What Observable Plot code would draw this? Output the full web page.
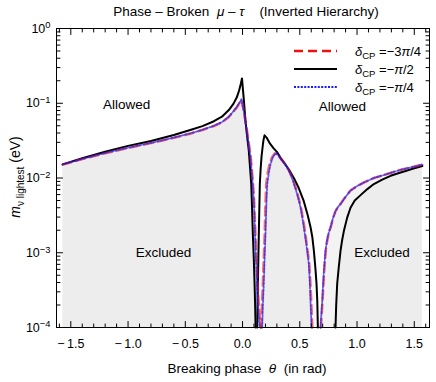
<!DOCTYPE html>
<html><head><meta charset="utf-8">
<script src="https://cdn.jsdelivr.net/npm/d3@7"></script>
<script src="https://cdn.jsdelivr.net/npm/@observablehq/plot@0.6"></script>
<style>body{margin:0;background:#fff}</style>
</head><body><div id="chart"></div>
<script>
// ---- data ----
const thetaBlack1 = [-1.571,-1.4,-1.2,-1.0,-0.8,-0.6,-0.45,-0.35,-0.25,-0.18,-0.12,-0.08,-0.05,-0.03,-0.015,-0.005,0.01,0.026,0.04,0.055,0.066,0.076,0.083,0.09,0.098,0.105,0.11,0.114];
const mBlack1 = [0.0152,0.0184,0.0224,0.0269,0.0313,0.0376,0.0442,0.0495,0.0575,0.066,0.081,0.098,0.12,0.148,0.182,0.215,0.118,0.0575,0.036,0.0229,0.0135,0.0083,0.0040,0.00178,0.00085,0.00039,0.0002,0.0001];
const thetaBlack2 = [0.128,0.134,0.142,0.151,0.158,0.166,0.174,0.182,0.192,0.21,0.24,0.27,0.3,0.332,0.37,0.41,0.448,0.49,0.535,0.57,0.594,0.61,0.623,0.636,0.646,0.653,0.658];
const mBlack2 = [0.0001,0.0004,0.00178,0.0083,0.0132,0.0195,0.025,0.0316,0.0372,0.0347,0.0288,0.0251,0.0224,0.0186,0.0155,0.0126,0.01,0.0074,0.0049,0.00316,0.0022,0.0016,0.00107,0.00063,0.00039,0.000224,0.0001];
const thetaBlack3 = [0.812,0.818,0.827,0.84,0.856,0.87,0.885,0.914,0.943,0.98,1.031,1.09,1.147,1.22,1.293,1.36,1.438,1.5,1.571];
const mBlack3 = [0.0001,0.0002,0.00039,0.00063,0.00107,0.00148,0.00195,0.00295,0.004,0.005,0.0059,0.0071,0.0083,0.0095,0.0107,0.0116,0.0126,0.0135,0.0145];

const thetaBlue1 = [-1.571,-1.4,-1.2,-1.0,-0.8,-0.6,-0.45,-0.35,-0.25,-0.18,-0.12,-0.08,-0.05,-0.03,-0.01,0.011,0.026,0.041,0.055,0.07,0.085,0.099,0.107,0.114,0.121,0.128,0.135,0.142,0.151];
const mBlue1 = [0.0152,0.018,0.0216,0.0254,0.0295,0.0347,0.0398,0.0442,0.05,0.056,0.066,0.078,0.089,0.1,0.113,0.078,0.055,0.039,0.027,0.0186,0.0098,0.0049,0.0022,0.00107,0.00058,0.00031,0.00019,0.000138,0.0001];
const thetaBlue2 = [0.172,0.178,0.186,0.193,0.201,0.208,0.216,0.23,0.245,0.265,0.288,0.31,0.33,0.36,0.39,0.415,0.44,0.46,0.478,0.495,0.51,0.523,0.535,0.548,0.56,0.57,0.579,0.587,0.594,0.603];
const mBlue2 = [0.0001,0.0002,0.00039,0.00085,0.00178,0.0042,0.0083,0.0117,0.0155,0.019,0.0214,0.0204,0.0182,0.016,0.0138,0.0115,0.0093,0.0074,0.006,0.0048,0.0038,0.0029,0.0022,0.00162,0.0012,0.00091,0.00071,0.00042,0.00021,0.0001];
const thetaBlue3 = [0.681,0.688,0.696,0.703,0.71,0.718,0.725,0.735,0.745,0.757,0.769,0.79,0.812,0.834,0.856,0.9,0.943,1.0,1.059,1.147,1.22,1.293,1.36,1.438,1.5,1.571];
const mBlue3 = [0.0001,0.00015,0.00023,0.00037,0.00056,0.0008,0.00107,0.00138,0.00166,0.00195,0.0022,0.0029,0.0036,0.0041,0.0045,0.0056,0.0068,0.0078,0.0087,0.01,0.0108,0.0117,0.0126,0.0135,0.0142,0.0151];

const thetaRed1 = [-1.571,-1.4,-1.2,-1.0,-0.8,-0.6,-0.45,-0.35,-0.25,-0.18,-0.12,-0.08,-0.05,-0.03,-0.01,0.011,0.026,0.041,0.055,0.07,0.085,0.099,0.108,0.116,0.124,0.132,0.14,0.148,0.158];
const mRed1 = [0.0151,0.0179,0.0214,0.0252,0.0293,0.0345,0.0395,0.044,0.0497,0.0556,0.0655,0.0775,0.088,0.099,0.111,0.08,0.057,0.041,0.029,0.02,0.011,0.0058,0.0027,0.00125,0.00068,0.00036,0.00022,0.00015,0.0001];
const thetaRed2 = [0.163,0.17,0.178,0.186,0.194,0.2,0.207,0.22,0.237,0.258,0.283,0.31,0.33,0.36,0.39,0.415,0.44,0.46,0.478,0.495,0.51,0.525,0.538,0.55,0.562,0.573,0.582,0.591,0.6,0.609];
const mRed2 = [0.0001,0.0002,0.00039,0.00085,0.00178,0.0042,0.0083,0.0117,0.0155,0.019,0.0214,0.0206,0.0185,0.0163,0.014,0.0118,0.0096,0.0077,0.0063,0.005,0.004,0.003,0.0023,0.0017,0.00125,0.00093,0.00072,0.00043,0.00022,0.0001];
const thetaRed3 = [0.684,0.691,0.699,0.706,0.713,0.72,0.727,0.737,0.747,0.758,0.77,0.79,0.812,0.834,0.856,0.9,0.943,1.0,1.059,1.147,1.22,1.293,1.36,1.438,1.5,1.571];
const mRed3 = [0.0001,0.00015,0.00023,0.00037,0.00056,0.0008,0.00107,0.00138,0.00166,0.00195,0.0022,0.0029,0.0036,0.0041,0.0045,0.0056,0.0068,0.0078,0.0087,0.01,0.0108,0.0117,0.0126,0.0135,0.0142,0.0151];

const xTicks = [-1.5,-1.0,-0.5,0.0,0.5,1.0,1.5];
const yTicks = [1e-4,1e-3,1e-2,1e-1,1];
const annoTheta = [-1.013, 0.873, -0.69, 1.218];
const annoM = [0.097, 0.091, 0.001, 0.001];
const annoText = ["Allowed","Allowed","Excluded","Excluded"];

// ---- build tables ----
function rows(curve, branch, th, m) { return th.map((t, i) => ({curve, branch: curve + branch, theta: t, m: m[i]})); }
const black = [...rows("k",1,thetaBlack1,mBlack1), ...rows("k",2,thetaBlack2,mBlack2), ...rows("k",3,thetaBlack3,mBlack3)];
const blue = [...rows("b",1,thetaBlue1,mBlue1), ...rows("b",2,thetaBlue2,mBlue2), ...rows("b",3,thetaBlue3,mBlue3)];
const red = [...rows("r",1,thetaRed1,mRed1), ...rows("r",2,thetaRed2,mRed2), ...rows("r",3,thetaRed3,mRed3)];
const all = [...black, ...red, ...blue];
const annos = annoText.map((t, i) => ({t, theta: annoTheta[i], m: annoM[i]}));

const xMinor = d3.range(-16, 17).map(i => i / 10).filter(v => Math.abs(v * 2 - Math.round(v * 2)) > 1e-6);
const yMinor = [];
for (let k = -4; k < 0; k++) for (let j = 2; j <= 9; j++) yMinor.push(j * Math.pow(10, k));

const tickShape = {draw(ctx, l) { ctx.moveTo(0, 0); ctx.lineTo(0, -l); }};
const vt = (data, chan, anchor, rot, len) => Plot.vector(data, {[chan]: d => d, frameAnchor: anchor, rotate: rot, length: len, anchor: "start", shape: tickShape, stroke: "#000", strokeWidth: 1});

const plot = Plot.plot({
  width: 436, height: 382,
  marginLeft: 56, marginRight: 7, marginTop: 28, marginBottom: 55,
  style: {fontFamily: "'Liberation Sans', Arial, sans-serif", fontSize: "12.5px", background: "#fff", color: "#000"},
  x: {domain: [-1.625, 1.633]},
  y: {type: "log", domain: [1e-4, 1]},
  marks: [
    Plot.areaY(all, {x: "theta", y1: d => 1e-4, y2: "m", z: "branch", fill: "#000", fillOpacity: 0.025}),
    Plot.line(black, {x: "theta", y: "m", z: "branch", stroke: "#000", strokeWidth: 2}),
    Plot.line(red, {x: "theta", y: "m", z: "branch", stroke: "#ee1111", strokeWidth: 2.6, strokeDasharray: "9,5", strokeOpacity: 0.6}),
    Plot.line(blue, {x: "theta", y: "m", z: "branch", stroke: "#1a1aff", strokeWidth: 1.8, strokeDasharray: "1.8,1.8", strokeOpacity: 0.7}),
    Plot.text(annos, {x: "theta", y: "m", text: "t", fontSize: 13.5, fill: "#000"}),
    Plot.frame({stroke: "#000", strokeWidth: 1}),
    vt(xTicks, "x", "bottom", 0, 6), vt(xMinor, "x", "bottom", 0, 3.5),
    vt(xTicks, "x", "top", 180, 6), vt(xMinor, "x", "top", 180, 3.5),
    vt(yTicks, "y", "left", 90, 6), vt(yMinor, "y", "left", 90, 3.5),
    vt(yTicks, "y", "right", -90, 6), vt(yMinor, "y", "right", -90, 3.5),
    Plot.axisX({ticks: xTicks, tickSize: 0, tickPadding: 12, tickFormat: d => d3.format(".1f")(d).replace("\u2212", "\u2212\u2009"), label: null, fontSize: 12.5}),
    Plot.axisY({ticks: yTicks, tickSize: 0, tickPadding: 6, tickFormat: d => "10^" + Math.round(Math.log10(d)), label: null, fontSize: 12.5})
  ]
});
document.getElementById("chart").appendChild(plot);

const svg = d3.select(plot);
// superscript exponents
svg.selectAll('g[aria-label="y-axis tick label"] text').each(function() {
  const [b, e] = this.textContent.split("^");
  const s = d3.select(this); s.text("");
  s.append("tspan").text(b);
  s.append("tspan").attr("dy", "-0.45em").attr("font-size", "0.75em").text(e.replace("-", "\u2212"));
});

function rich(sel, parts) {
  let shift = 0;
  for (const p of parts) {
    const t = sel.append("tspan").text(p.t);
    const target = p.sub || 0;
    if (target !== shift) { t.attr("dy", target - shift); shift = target; }
    if (p.fs) t.attr("font-size", p.fs);
    if (p.i) t.attr("font-style", "italic");
  }
}
const base = {"font-family": "'Liberation Sans', Arial, sans-serif", fill: "#000"};
function txt(x, y, size, anchor) {
  const t = svg.append("text").attr("x", x).attr("y", y).attr("font-size", size).attr("text-anchor", anchor).style("white-space", "pre");
  for (const k in base) t.attr(k, base[k]);
  return t;
}
// title
rich(txt(246, 16, 13.5, "middle"), [{t: "Phase \u2013 Broken  "}, {t: "\u03bc", i: 1}, {t: " \u2013 "}, {t: "\u03c4", i: 1}, {t: "    (Inverted Hierarchy)"}]);
// x label
rich(txt(247, 373, 13.5, "middle"), [{t: "Breaking phase  "}, {t: "\u03b8", i: 1}, {t: "  (in rad)"}]);
// y label
const yl = txt(0, 0, 14, "middle").attr("transform", "translate(20,177) rotate(-90)");
rich(yl, [{t: "m", i: 1}, {t: "\u03bd lightest", sub: 4, fs: 10}, {t: " (eV)"}]);
// legend
const leg = [
  {y: 51, stroke: "#ee1111", dash: "9,5", w: 2.4, lab: "\u22123\u03c0/4"},
  {y: 69, stroke: "#000", dash: null, w: 2.2, lab: "\u2212\u03c0/2"},
  {y: 87, stroke: "#1a1aff", dash: "2,1.4", w: 2.2, lab: "\u2212\u03c0/4"}
];
for (const L of leg) {
  const ln = svg.append("line").attr("x1", 294).attr("x2", 337).attr("y1", L.y).attr("y2", L.y)
    .attr("stroke", L.stroke).attr("stroke-width", L.w);
  if (L.dash) ln.attr("stroke-dasharray", L.dash);
  const t = txt(355, L.y + 4.5, 13, "start");
  const i = L.lab.indexOf("\u03c0");
  rich(t, [{t: "\u03b4", i: 1}, {t: "CP", sub: 3, fs: 9.5}, {t: " =" + L.lab.slice(0, i)}, {t: "\u03c0", i: 1}, {t: L.lab.slice(i + 1)}]);
}
</script></body></html>
